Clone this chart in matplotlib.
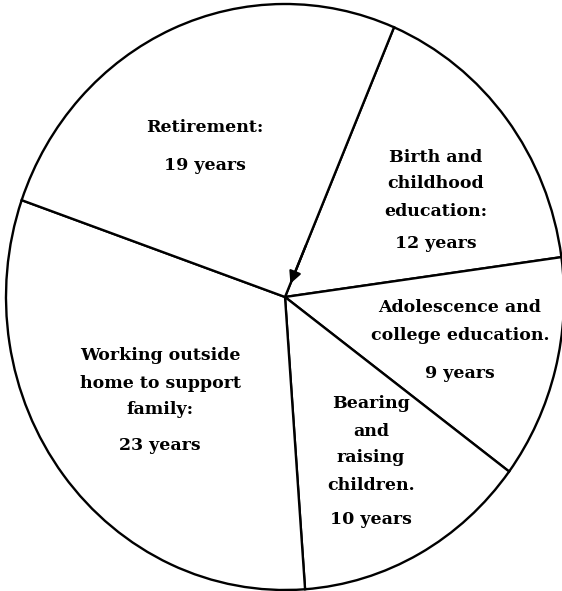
import numpy as np
import matplotlib
matplotlib.use("Agg")
import matplotlib.pyplot as plt

# stages of life, years spent in each
stages = ["Birth and childhood education", "Adolescence and college education",
          "Bearing and raising children", "Working outside home to support family",
          "Retirement"]
years = [12, 9, 10, 23, 19]

START = 67  # where the first wedge starts (degrees)

# label text lines for each wedge, and the "N years" line
label_lines = [["Birth and", "childhood", "education:"],
               ["Adolescence and", "college education."],
               ["Bearing", "and", "raising", "children."],
               ["Working outside", "home to support", "family:"],
               ["Retirement:"]]
# label anchor positions in pixels (x, y of first line, y of years line)
label_pos = [(436, 157, 244), (460, 308, 373), (371, 404, 519),
             (160, 356, 445), (205, 128, 165)]

CX, CY, RX, RY = 285, 297, 279, 293


def px2data(px, py):
    return (px - CX) / RX, (CY - py) / RY


fig = plt.figure(figsize=(5.62, 5.91), dpi=100)
ax = fig.add_axes([0, 0, 1, 1])
ax.pie(years, startangle=START, counterclock=False, colors=["white"] * 5,
       wedgeprops=dict(edgecolor="black", linewidth=1.7))
ax.set_aspect("auto")
ax.set_xlim(px2data(0, 0)[0], px2data(562, 0)[0])
ax.set_ylim(px2data(0, 591)[1], px2data(0, 0)[1])
ax.axis("off")

font = dict(family="DejaVu Serif", weight="bold", fontsize=12.5, ha="center", va="center")
for lines, (px, py0, pyy), n in zip(label_lines, label_pos, years):
    for i, line in enumerate(lines):
        ax.text(*px2data(px, py0 + 27 * i), line, **font)
    ax.text(*px2data(px, pyy), f"{n} years", **font)

# arrow down the first boundary line into the centre
t = np.radians(START)
ax.annotate("", xy=(0.04 * np.cos(t), 0.04 * np.sin(t)),
            xytext=(0.2 * np.cos(t), 0.2 * np.sin(t)),
            arrowprops=dict(arrowstyle="-|>", color="black", lw=1.6, mutation_scale=18))

fig.savefig("out.png", dpi=100, facecolor="white")
